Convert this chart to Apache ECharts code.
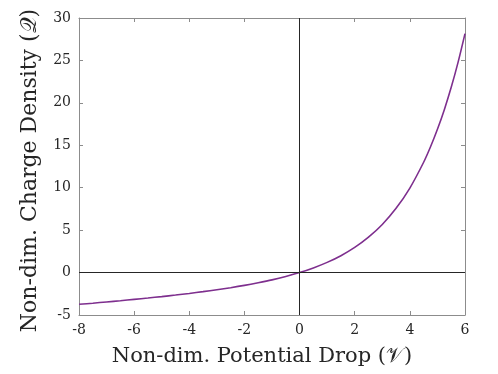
<!DOCTYPE html>
<html>
<head>
<meta charset="utf-8">
<script src="https://cdn.jsdelivr.net/npm/echarts@6/dist/echarts.min.js"></script>
<style>
html,body{margin:0;padding:0;background:#fff;}
#main{width:498px;height:374px;}
</style>
</head>
<body>
<div id="main"></div>
<script>
// values
var potential = [-8, -7.5, -7, -6.5, -6, -5.5, -5, -4.5, -4, -3.5, -3, -2.5, -2, -1.5, -1, -0.5,
    0, 0.5, 1, 1.5, 2, 2.5, 3, 3.5, 4, 4.5, 4.75, 5, 5.25, 5.5, 5.75, 6];
var charge = [-3.74, -3.61, -3.46, -3.32, -3.16, -3.00, -2.83, -2.65, -2.46, -2.25, -2.02, -1.78, -1.51, -1.20, -0.86, -0.46,
    0, 0.55, 1.20, 1.99, 2.96, 4.17, 5.67, 7.57, 9.96, 13.0, 14.82, 16.88, 19.20, 21.83, 24.80, 28.16];
var xTicks = [-8, 6, 2];   // min, max, step
var yTicks = [-5, 30, 5];

var FONT = 'DejaVu Serif';
var BOX = '#8c8c8c';

var pts = [];
for (var i = 0; i < potential.length; i++) {
    pts.push([potential[i], charge[i]]);
}

function boxAxis(pos, t, show) {
    return {
        type: 'value', position: pos, min: t[0], max: t[1], interval: t[2],
        axisLine: {show: true, onZero: false, lineStyle: {color: BOX, width: 1}},
        axisTick: {show: true, inside: true, length: 4, lineStyle: {color: BOX}},
        axisLabel: {show: show, color: '#262626', fontFamily: FONT, fontSize: 14, margin: 8},
        splitLine: {show: false}
    };
}

var xMain = boxAxis('bottom', xTicks, true);
xMain.name = 'Non-dim. Potential Drop (\uD835\uDCB1)';
xMain.nameLocation = 'middle';
xMain.nameGap = 31;
xMain.nameTextStyle = {color: '#262626', fontFamily: FONT, fontSize: 21, padding: [0, 20, 0, 0]};

var yMain = boxAxis('left', yTicks, true);
yMain.name = 'Non-dim. Charge Density (\uD835\uDCAC)';
yMain.nameLocation = 'middle';
yMain.nameGap = 38;
yMain.nameTextStyle = {color: '#262626', fontFamily: FONT, fontSize: 22, padding: [0, 8, 0, 0]};

var option = {
    animation: false,
    backgroundColor: '#fff',
    grid: {left: 79, right: 33, top: 18, bottom: 59},
    xAxis: [xMain, boxAxis('top', xTicks, false)],
    yAxis: [yMain, boxAxis('right', yTicks, false)],
    series: [{
        type: 'line',
        data: pts,
        smooth: 0.3,
        showSymbol: false,
        lineStyle: {color: '#7E2F8E', width: 1.6},
        markLine: {
            silent: true,
            symbol: 'none',
            label: {show: false},
            lineStyle: {color: '#262626', width: 1, type: 'solid'},
            data: [{xAxis: 0}, {yAxis: 0}]
        },
        z: 3
    }]
};

var myChart = echarts.init(document.getElementById('main'));
myChart.setOption(option);
</script>
</body>
</html>
